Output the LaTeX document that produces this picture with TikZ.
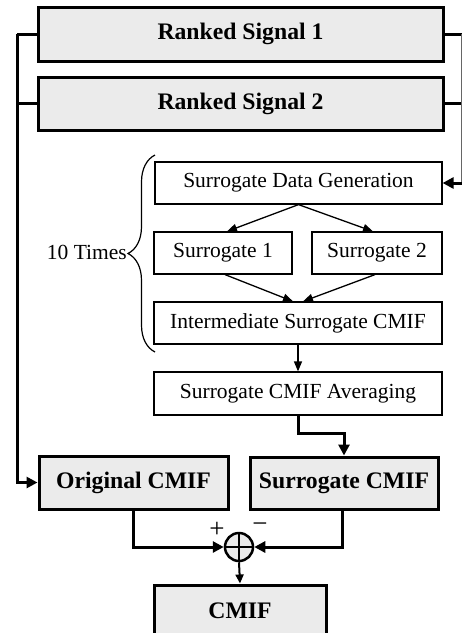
\documentclass[tikz,border=0pt]{standalone}
\usepackage{fontspec}
\setmainfont{Liberation Serif}
\usetikzlibrary{arrows.meta,decorations.pathreplacing}
\begin{document}
\begin{tikzpicture}[x=1pt,y=-1pt,
  graybox/.style={draw,line width=3pt,fill=black!8,minimum width=#1,inner sep=0pt,
     font=\fontsize{23.7}{28}\selectfont\bfseries},
  whitebox/.style={draw,line width=1.2pt,fill=white,minimum width=#1,inner sep=0pt,
     font=\fontsize{21.5}{26}\selectfont},
  thickline/.style={line width=3pt},
  thickarrow/.style={line width=3pt,-{Triangle[length=11pt,width=11pt]}},
  thinarrow/.style={line width=1.3pt,-{Triangle[length=10pt,width=8pt]}},
  midarrow/.style={line width=2pt,-{Triangle[length=9pt,width=8pt]}}]
\useasboundingbox[fill=white] (0,0) rectangle (462,633);
% gray boxes
\node[graybox=405pt,minimum height=54pt] (rs1) at (240.5,34) {Ranked Signal 1};
\node[graybox=405pt,minimum height=53pt] (rs2) at (240.5,103.5) {Ranked Signal 2};
\node[graybox=189pt,minimum height=53pt] (orig) at (133.5,482.5) {Original CMIF};
\node[graybox=188pt,minimum height=52pt] (surc) at (344,483) {Surrogate CMIF};
\node[graybox=172pt,minimum height=52pt] (cmif) at (240,611) {CMIF};
% white boxes
\node[whitebox=287pt,minimum height=42pt] (sdg) at (298.5,183) {Surrogate Data Generation};
\node[whitebox=138pt,minimum height=42pt] (s1) at (223,253) {Surrogate 1};
\node[whitebox=130pt,minimum height=42pt] (s2) at (377,253) {Surrogate 2};
\node[whitebox=288pt,minimum height=42pt] (inter) at (298,323) {Intermediate Surrogate CMIF};
\node[whitebox=288pt,minimum height=43pt] (avg) at (298,393.5) {Surrogate CMIF Averaging};
% sum junction
\node[circle,draw,line width=2.5pt,fill=black!8,minimum size=28pt,inner sep=0pt] (sum) at (239,547) {};
\draw[line width=2pt] (sum.north) -- (sum.south) (sum.west) -- (sum.east);
\node[font=\fontsize{27}{30}\selectfont,inner sep=0pt] (plus) at (217,530) {+};
\node[font=\fontsize{27}{30}\selectfont,inner sep=0pt] (minus) at (260,528) {−};
% brace
\draw[line width=1.2pt,decorate,decoration={brace,amplitude=27pt}] (155,352) -- (155,155);
\node[font=\fontsize{21.5}{26}\selectfont,anchor=east,inner sep=0pt] (times) at (127,252) {10 Times};
% left bus
\coordinate (lb1) at (17,34);
\coordinate (lb2) at (17,103.5);
\draw[thickline] (rs1.west) -- (lb1);
\draw[thickline] (rs2.west) -- (lb2);
\draw[thickarrow] (lb1) |- (orig.west);
% right bus
\coordinate (rt1) at (462,34);
\coordinate (rt2) at (462,103.5);
\coordinate (rt3) at (462,183);
\draw[thickline] (rs1.east) -- (rt1);
\draw[thickline] (rs2.east) -- (rt2);
\draw[line width=1pt,black!60] (461.5,34) -- (461.5,183);
\draw[thickarrow] (rt3) -- (sdg.east);
% inner flow
\draw[thinarrow] (sdg.south) -- ([xshift=4pt]s1.north);
\draw[thinarrow] (sdg.south) -- ([xshift=-4pt]s2.north);
\draw[thinarrow] ([xshift=2pt]s1.south) -- ([xshift=-5pt]inter.north);
\draw[thinarrow] ([xshift=-2pt]s2.south) -- ([xshift=5pt]inter.north);
\draw[thinarrow] (inter.south) -- (avg.north);
\coordinate (avgturn) at (298,433);
\draw[thickarrow] (avg.south) -- (avgturn) -| (surc.north);
% into sum
\draw[thickarrow] (orig.south) |- (sum.west);
\draw[thickarrow] ([xshift=-2pt]surc.south) |- (sum.east);
\draw[midarrow] (sum.south) -- (cmif.north);
\end{tikzpicture}
\end{document}
